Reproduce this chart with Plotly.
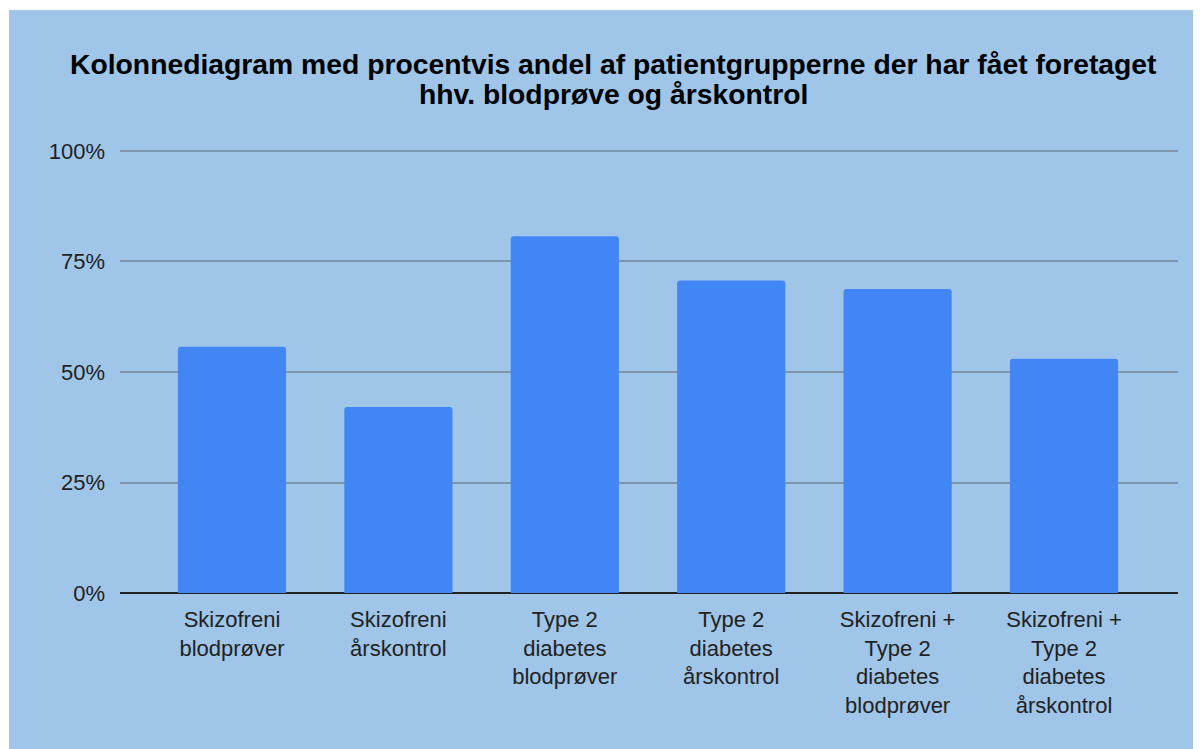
import plotly.graph_objects as go

categories = [
    "Skizofreni<br>blodprøver",
    "Skizofreni<br>årskontrol",
    "Type 2<br>diabetes<br>blodprøver",
    "Type 2<br>diabetes<br>årskontrol",
    "Skizofreni +<br>Type 2<br>diabetes<br>blodprøver",
    "Skizofreni +<br>Type 2<br>diabetes<br>årskontrol",
]
values = [0.557, 0.421, 0.807, 0.707, 0.688, 0.530]
y_tickvals = [0, 0.25, 0.5, 0.75, 1.0]
y_ticktext = ["0%", "25%", "50%", "75%", "100%"]
title_lines = [
    "Kolonnediagram med procentvis andel af patientgrupperne der har fået foretaget",
    "hhv. blodprøve og årskontrol",
]

FONT = "Liberation Sans, Arial, sans-serif"
BLUE_BG = "#9fc5e8"

W, H = 1193, 741
ML, MR, MT, MB = 112, 23, 141, 156
PH = H - MT - MB
Y_MAX = 1.0045

fig = go.Figure(
    go.Bar(
        x=categories,
        y=values,
        width=0.65,
        marker=dict(color="#4285f4", line=dict(width=0), cornerradius=3),
        hoverinfo="skip",
    )
)

title_centers_px = [56, 86]  # vertical centre of each title line, figure pixels
annotations = [
    dict(
        text=f"<b>{line}</b>",
        xref="paper",
        yref="paper",
        x=0.466,
        y=(MT + PH - cy) / PH,
        xanchor="center",
        yanchor="middle",
        showarrow=False,
        font=dict(family=FONT, size=28.3, color="#000000"),
    )
    for line, cy in zip(title_lines, title_centers_px)
]

# blue panel from figure pixel (1,2) to beyond the bottom-right corner
bx0, by0, bx1, by1 = 1, 2, W + 10, H + 10
pw = W - ML - MR

fig.update_layout(
    width=W,
    height=H,
    margin=dict(l=ML, r=MR, t=MT, b=MB),
    paper_bgcolor="white",
    plot_bgcolor="rgba(0,0,0,0)",
    showlegend=False,
    font=dict(family=FONT, size=22, color="#222222"),
    annotations=annotations,
    shapes=[
        dict(
            type="rect",
            xref="paper",
            yref="paper",
            x0=(bx0 - ML) / pw,
            x1=(bx1 - ML) / pw,
            y0=(MT + PH - by1) / PH,
            y1=(MT + PH - by0) / PH,
            fillcolor=BLUE_BG,
            line=dict(width=0),
            layer="below",
        )
    ],
)

fig.update_xaxes(
    type="category",
    range=[-0.673, 5.685],
    showgrid=False,
    showline=False,
    ticks="",
    tickfont=dict(family=FONT, size=22, color="#222222"),
    ticklabelstandoff=11,
)

fig.update_yaxes(
    range=[0, Y_MAX],
    tickvals=y_tickvals,
    ticktext=y_ticktext,
    showgrid=True,
    gridcolor="#7d95ad",
    gridwidth=1.5,
    zeroline=True,
    zerolinecolor="#222222",
    zerolinewidth=2,
    showline=False,
    ticks="",
    tickfont=dict(family=FONT, size=22, color="#222222"),
    ticklabelstandoff=14,
)

fig.write_html("out.html")
